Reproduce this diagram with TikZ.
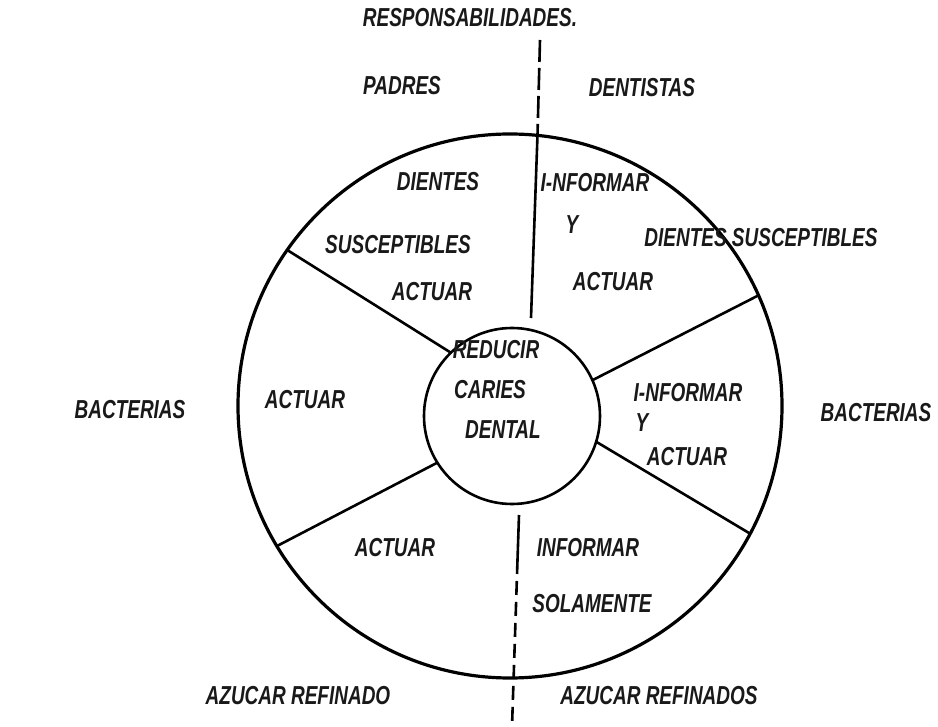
\documentclass[tikz,border=0pt]{standalone}
\usepackage{fontspec}
\newfontfamily\hand{Liberation Sans}[FakeStretch=0.73]
\begin{document}
\begin{tikzpicture}[x=1pt,y=-1pt,
  lbl/.style={font=\hand\bfseries\itshape\fontsize{26}{28}\selectfont, inner sep=0pt, text=black!90},
  ring/.style={draw, circle, line width=3.2pt, inner sep=0pt, outer sep=0pt},
  spoke/.style={line width=2.6pt},
  axis/.style={line width=2.6pt},
  axisdash/.style={line width=2.6pt, dash pattern=on 22pt off 6pt}]
\useasboundingbox (0,0) rectangle (938,727);
\fill[white] (0,0) rectangle (938,727);
% circles
\node[ring, minimum size=544pt] (outer) at (510,406) {};
\node[ring, line width=2.6pt, minimum size=176pt] (inner) at (512,416) {};
% spokes
\draw[spoke] (outer.145) -- (inner.134);
\draw[spoke] (outer.24.8) -- (inner.24);
\draw[spoke] (outer.-28.5) -- (inner.-17);
\draw[spoke] (outer.211.7) -- (inner.212.5);
% vertical axis
\coordinate (t1) at (540,40);
\coordinate (tc) at (537.5,135);
\coordinate (t2) at (531,318);
\coordinate (b1) at (519,515);
\coordinate (bc) at (517.5,560);
\coordinate (b2) at (512,727);
\draw[axisdash] (t1) -- (tc);
\draw[axis] (tc) -- (t2);
\draw[axis] (b1) -- (bc);
\draw[axisdash, dash pattern=on 14pt off 7pt] (bc) -- (b2);
% labels
\node[lbl] (resp) at (470,18) {RESPONSABILIDADES.};
\node[lbl] (padres) at (402,86) {PADRES};
\node[lbl] (dent) at (642,88) {DENTISTAS};
\node[lbl] (dien1) at (438,182) {DIENTES};
\node[lbl] (susc1) at (398,245) {SUSCEPTIBLES};
\node[lbl] (act1) at (432,292) {ACTUAR};
\node[lbl] (inf1) at (595,183) {I-NFORMAR};
\node[lbl] (y1) at (572,225) {Y};
\node[lbl] (dsusc) at (761,238) {DIENTES SUSCEPTIBLES};
\node[lbl] (act2) at (613,282) {ACTUAR};
\node[lbl] (red) at (496,350) {REDUCIR};
\node[lbl] (car) at (490,390) {CARIES};
\node[lbl] (dental) at (503,430) {DENTAL};
\node[lbl] (inf2) at (688,393) {I-NFORMAR};
\node[lbl] (y2) at (642,423) {Y};
\node[lbl] (act3) at (687,457) {ACTUAR};
\node[lbl] (actL) at (305,400) {ACTUAR};
\node[lbl] (bactL) at (130,410) {BACTERIAS};
\node[lbl] (bactR) at (876,413) {BACTERIAS};
\node[lbl] (actLL) at (395,548) {ACTUAR};
\node[lbl] (infLL) at (588,548) {INFORMAR};
\node[lbl] (sol) at (592,604) {SOLAMENTE};
\node[lbl] (az1) at (298,696) {AZUCAR REFINADO};
\node[lbl] (az2) at (659,696) {AZUCAR REFINADOS};
\end{tikzpicture}
\end{document}
